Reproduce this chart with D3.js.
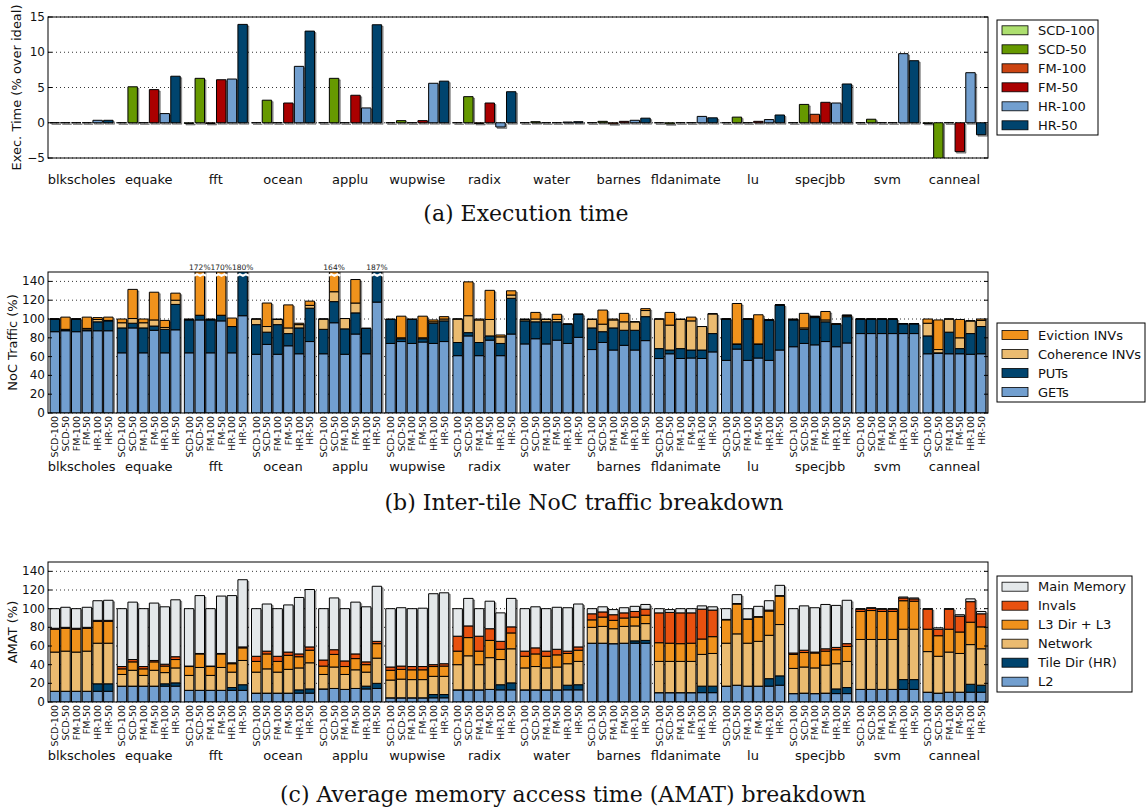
<!DOCTYPE html>
<html>
<head>
<meta charset="utf-8">
<title>Exec time, NoC traffic, AMAT</title>
<style>
html, body { margin:0; padding:0; background:#fff; }
svg { display:block; font-family: 'DejaVu Sans', sans-serif; }
.caption { font-family: 'DejaVu Serif', serif; }
</style>
</head>
<body>
<svg id="stage" width="1147" height="812"></svg>
<script src="https://d3js.org/d3.v7.min.js"></script>
<script>

var benchmarks = ["blkscholes","equake","fft","ocean","applu","wupwise","radix","water","barnes","fldanimate","lu","specjbb","svm","canneal"];
var configs = ["SCD-100","SCD-50","FM-100","FM-50","HR-100","HR-50"];

// (a) execution time, % over ideal, one value per benchmark
var execSCD100 = [0, 0, -0.1, 0, 0, 0, 0, 0, 0, 0, 0, 0, 0, -0.1];
var execSCD50  = [0, 5.1, 6.3, 3.2, 6.3, 0.3, 3.7, 0.15, 0.2, -0.15, 0.8, 2.6, 0.5, -5.6];
var execFM100  = [0, 0, -0.1, 0, 0, 0, -0.1, 0, -0.15, 0, 0, 1.2, 0, 0];
var execFM50   = [0, 4.7, 6.1, 2.8, 3.9, 0.3, 2.8, 0, 0.2, 0, 0.2, 2.9, 0, -4.1];
var execHR100  = [0.35, 1.3, 6.2, 8.0, 2.1, 5.6, -0.6, 0.1, 0.35, 0.9, 0.45, 2.8, 9.8, 7.1];
var execHR50   = [0.35, 6.6, 13.95, 13.0, 13.9, 5.9, 4.4, 0.15, 0.65, 0.7, 1.1, 5.5, 8.8, -1.7];
var execColors = ["#addf6f", "#669900", "#cc4411", "#aa0000", "#729fcf", "#00446e"];

// (b) NoC traffic (%), one row per benchmark, one column per config
var nocGETs = [
  [86.5, 87.5, 86.5, 87.5, 87.5, 87.5],
  [64, 90.5, 64, 88, 64, 88.5],
  [64, 99, 64, 98, 64, 103.5],
  [62.5, 73, 62.5, 71.5, 63, 76],
  [63, 96, 62.5, 84, 63, 118],
  [74, 76, 74, 75.5, 74, 76],
  [61, 82, 61, 77.5, 61, 84],
  [73.5, 79, 73.5, 77.5, 74, 80.5],
  [67.5, 75, 67, 72, 67, 77],
  [58, 63, 58, 58.5, 58, 65],
  [56, 68, 56, 58.5, 56, 67],
  [70.5, 74, 72.5, 76, 70.5, 74.5],
  [84.5, 84.5, 84.5, 84.5, 84.5, 84.5],
  [63, 63.5, 63, 63, 62.5, 63]
];
var nocPUTs = [
  [13.5, 1, 13.5, 1, 9.5, 10.5],
  [26.5, 5, 26.5, 4.5, 25, 27],
  [35, 5, 35, 6, 28, 76.5],
  [31.5, 13, 31.5, 13, 27.5, 35.5],
  [26, 22.5, 27, 22.5, 27, 69],
  [25.5, 3, 25.5, 3.5, 21.5, 22],
  [14, 3.5, 14, 4.5, 13, 38],
  [24.5, 18, 23.5, 19.5, 20.5, 24.5],
  [23, 11.5, 23.5, 16, 21, 25.5],
  [10.5, 4, 10.5, 8.5, 9, 19.5],
  [44, 5, 44, 14.5, 43, 48],
  [28.5, 15, 29, 21, 24, 28],
  [15.5, 15.5, 15.5, 15.5, 10.5, 10.5],
  [19, 0.5, 23, 5.5, 22, 29]
];
var nocCohINVs = [
  [0, 0.5, 0, 1.5, 2.5, 0.5],
  [5.5, 5, 5.5, 6.5, 2, 4.5],
  [0.5, 0, 0.5, 0, 0, 0],
  [6, 6, 5.5, 6, 3.5, 3],
  [11, 10.5, 11, 10.5, 0, 0],
  [0, 1, 0, 1, 1.5, 2],
  [25, 18, 24, 17.5, 7, 3.5],
  [1.5, 3, 2.5, 2.5, 0, 0],
  [9, 8, 8.5, 9, 9, 6.5],
  [31.5, 26.5, 31, 31, 25, 21],
  [0, 0.5, 0, 0.5, 0, 0],
  [0.5, 1.5, 1, 2, 0, 1.5],
  [0, 0, 0, 0, 0, 0],
  [13.5, 3.5, 14, 11.5, 13.5, 6.5]
];
var nocEvictINVs = [
  [0, 13, 0, 12, 2, 3.5],
  [4, 31, 4, 29.5, 7.5, 7.5],
  [0.5, 68, 0.5, 66, 9, 0],
  [0, 25, 0.5, 24.5, 1.5, 4.5],
  [0, 35, 0, 25, 0, 0],
  [0.5, 23, 0.5, 23, 2, 2.5],
  [0, 36, 1, 31, 2, 4.5],
  [0.5, 7, 0.5, 5.5, 0, 0],
  [0.5, 15, 1, 9, 0, 2],
  [0, 13.5, 0.5, 4, 0, 0],
  [0, 43, 0, 31, 0, 0],
  [0.5, 15.5, 0.5, 9, 0.5, 0],
  [0, 0, 0, 0, 0, 0],
  [4.5, 31.5, 0, 19.5, 0, 1.5]
];
var nocNames = ["GETs", "PUTs", "Coherence INVs", "Eviction INVs"];
var nocColors = ["#729fcf", "#00446e", "#ebbb70", "#f0921c"];

// (c) AMAT breakdown (%)
var amatL2 = [
  [11.5, 11.5, 11.5, 11.5, 11.5, 11.5],
  [17, 17, 17, 17, 17, 17],
  [12.5, 12.5, 12.5, 12.5, 12.5, 12.5],
  [9.5, 9.5, 9.5, 9.5, 9.5, 9.5],
  [14, 14.5, 13.5, 14.5, 14, 14.5],
  [4.5, 4.5, 4.5, 4.5, 4.5, 4.5],
  [13, 13, 13, 13.5, 13, 13],
  [13, 13, 13, 13, 13, 13],
  [63, 63, 62.5, 63, 63, 63],
  [10, 10, 10, 10, 10, 10],
  [17, 18, 17, 17, 17, 18],
  [9, 9.5, 9, 9.5, 9, 9],
  [13.5, 13.5, 13.5, 13.5, 13.5, 13.5],
  [10.5, 9.5, 10.5, 10.5, 10.5, 10.5]
];
var amatTileDir = [
  [0, 0, 0, 0, 8, 8],
  [0, 0, 0, 0, 2.5, 3.5],
  [0, 0, 0, 0, 3, 6],
  [0, 0, 0, 0, 3.5, 4.5],
  [0, 0, 0, 0, 3, 5.5],
  [0, 0, 0, 0, 3.5, 3.5],
  [0, 0, 0, 0, 5.5, 7.5],
  [0, 0, 0, 0, 5, 5.5],
  [0, 0, 0, 0, 2.5, 3],
  [0, 0, 0, 0, 7, 7],
  [0, 0, 0, 0, 8, 10],
  [0, 0, 0, 0, 5, 6.5],
  [0, 0, 0, 0, 10.5, 10.5],
  [0, 0, 0, 0, 8.5, 7.5]
];
var amatNetwork = [
  [42, 43, 42, 43, 43.5, 43.5],
  [12.5, 17, 11.5, 17, 12, 16],
  [16, 24.5, 16, 24.5, 16.5, 26],
  [22.5, 26, 22.5, 25.5, 23.5, 28],
  [15.5, 23, 16, 20, 15, 27],
  [19, 20, 19.5, 19.5, 19.5, 19.5],
  [27, 36.5, 27, 34, 27, 36.5],
  [23.5, 25, 23.5, 24.5, 23, 25],
  [17, 18, 16, 18, 16, 18],
  [33.5, 33.5, 33.5, 33.5, 34, 35],
  [46, 55, 46, 48, 46.5, 55],
  [27, 28, 27.5, 30, 27, 28],
  [53.5, 53.5, 53.5, 53.5, 54, 54],
  [43.5, 39.5, 43, 41.5, 42.5, 39]
];
var amatL3 = [
  [24.5, 24.5, 24.5, 24.5, 23.5, 23.5],
  [6, 9, 7, 9, 7, 9],
  [9.5, 14.5, 9.5, 14.5, 9, 13.5],
  [11.5, 16, 11.5, 15, 12, 13.5],
  [9, 13.5, 8.5, 12, 8, 15.5],
  [10.5, 10.5, 10.5, 10.5, 10.5, 11],
  [14.5, 19.5, 14.5, 18.5, 11, 17],
  [12.5, 13.5, 12.5, 13, 11, 12],
  [8, 10, 9, 9, 9.5, 9],
  [20, 19.5, 19, 19.5, 16.5, 18],
  [25, 32, 25.5, 26, 26, 30.5],
  [15, 15.5, 16, 15, 15, 16],
  [30, 31, 30, 30, 30.5, 30],
  [24, 22, 24.5, 23, 24, 23.5]
];
var amatInvals = [
  [1, 1, 1, 1, 1, 1],
  [2.5, 2.5, 2.5, 1.5, 2, 3],
  [0.5, 0.5, 0.5, 0.5, 1, 1],
  [5.5, 3, 5.5, 3.5, 3, 3.5],
  [6.5, 5, 6, 5, 3, 2.5],
  [3.5, 3.5, 3.5, 3.5, 2, 2.5],
  [16, 12.5, 16, 12.5, 8.5, 6.5],
  [5.5, 6.5, 5.5, 6, 2.5, 3.5],
  [6.5, 5.5, 6, 5.5, 6, 6.5],
  [32, 33, 33, 32.5, 32, 28.5],
  [0.5, 0.5, 0.5, 0.5, 1, 0.5],
  [1.5, 2.5, 1, 2.5, 2.5, 3],
  [2.5, 2.5, 2.5, 2.5, 3, 2.5],
  [21.5, 7, 21.5, 17, 22, 14]
];
var amatMainMem = [
  [21, 21.5, 21, 21.5, 21, 21.5],
  [62, 61.5, 62, 61.5, 61.5, 61],
  [61.5, 62, 61.5, 61.5, 72, 72],
  [51, 50.5, 51, 50.5, 60.5, 61.5],
  [55, 55.5, 56, 55.5, 59, 59],
  [62.5, 62.5, 62, 62.5, 76, 76],
  [29.5, 29.5, 29.5, 29.5, 30.5, 30.5],
  [45.5, 44, 45.5, 45, 46.5, 46],
  [5.5, 5.5, 5.5, 5.5, 5.5, 5],
  [4.5, 3, 4.5, 4.5, 3.5, 3.5],
  [11.5, 9.5, 11, 11, 10, 11],
  [47.5, 47.5, 47.5, 47.5, 45, 46.5],
  [0.5, 0.5, 0.5, 0.5, 1, 1],
  [0.5, 1.5, 0.5, 1.5, 3, 2.5]
];
var amatNames = ["L2", "Tile Dir (HR)", "Network", "L3 Dir + L3", "Invals", "Main Memory"];
var amatColors = ["#729fcf", "#00446e", "#ebbb70", "#f0921c", "#e8510f", "#e4e8ea"];


var svg = d3.select("#stage");
var left = 48, right = 988;

var xGroup = d3.scaleBand().domain(benchmarks).range([left, right])
    .paddingInner(0.062).paddingOuter(0.031);
var xBar = d3.scaleBand().domain(configs).range([0, xGroup.bandwidth()]).paddingInner(0.12);
var bw = xBar.bandwidth();

function barX(b, c) { return xGroup(b) + xBar(c); }

// a path (not a rect) so zero-height bars still show their edge
function barPath(x, ya, yb, w) {
  return "M" + x + "," + ya + "H" + (x + w) + "V" + yb + "H" + x + "Z";
}

var clipN = 0;
function axesFrame(g, y, ticks, label, labelX, fmt) {
  var top = y.range()[1], bottom = y.range()[0];
  var id = "clip" + (clipN++);
  svg.append("clipPath").attr("id", id).append("rect")
    .attr("x", left).attr("y", top).attr("width", right - left).attr("height", bottom - top);

  g.append("g").selectAll("line").data(ticks).join("line")
    .attr("x1", left).attr("x2", right)
    .attr("y1", function(d) { return y(d); }).attr("y2", function(d) { return y(d); })
    .attr("stroke", "#000").attr("stroke-width", 0.8).attr("stroke-dasharray", "1,3");

  var plot = g.append("g").attr("clip-path", "url(#" + id + ")");
  var over = g.append("g");

  over.append("rect").attr("x", left).attr("y", top)
    .attr("width", right - left).attr("height", bottom - top)
    .attr("fill", "none").attr("stroke", "#000").attr("stroke-width", 1);

  var t = over.append("g").selectAll("g").data(ticks).join("g");
  t.append("line").attr("x1", left).attr("x2", left + 4)
    .attr("y1", function(d) { return y(d); }).attr("y2", function(d) { return y(d); }).attr("stroke", "#000");
  t.append("line").attr("x1", right - 4).attr("x2", right)
    .attr("y1", function(d) { return y(d); }).attr("y2", function(d) { return y(d); }).attr("stroke", "#000");
  t.append("text").attr("x", left - 3).attr("y", function(d) { return y(d); })
    .attr("text-anchor", "end").attr("dominant-baseline", "central")
    .attr("font-size", 12).attr("fill", "#111").text(fmt);

  over.append("text")
    .attr("transform", "translate(" + labelX + "," + ((top + bottom) / 2) + ") rotate(-90)")
    .attr("text-anchor", "middle").attr("dominant-baseline", "central")
    .attr("font-size", 13).attr("fill", "#111").text(label);

  return { plot: plot, over: over };
}

function groupLabels(g, yPos) {
  g.append("g").selectAll("text").data(benchmarks).join("text")
    .attr("x", function(d) { return xGroup(d) + xGroup.bandwidth() / 2; })
    .attr("y", yPos).attr("text-anchor", "middle")
    .attr("font-size", 13).attr("fill", "#111").text(function(d) { return d; });
}

function configLabels(g, yPos) {
  var cells = d3.cross(benchmarks, configs);
  g.append("g").selectAll("text").data(cells).join("text")
    .attr("transform", function(d) {
      return "translate(" + (barX(d[0], d[1]) + bw / 2) + "," + yPos + ") rotate(-90)";
    })
    .attr("text-anchor", "end").attr("dominant-baseline", "central")
    .attr("font-size", 9.5).attr("fill", "#111").text(function(d) { return d[1]; });
}

function legend(x, y, w, h, top, names, colors) {
  var g = svg.append("g");
  g.append("rect").attr("x", x).attr("y", y).attr("width", w).attr("height", h)
    .attr("fill", "#fff").attr("stroke", "#000").attr("stroke-width", 1);
  var row = g.selectAll("g.row").data(names).join("g")
    .attr("transform", function(d, i) { return "translate(" + (x + 5) + "," + (top + i * 19) + ")"; });
  row.append("rect").attr("x", 0).attr("y", -4.5).attr("width", 26).attr("height", 9)
    .attr("fill", function(d, i) { return colors[i]; }).attr("stroke", "#000").attr("stroke-width", 0.8);
  row.append("text").attr("x", 36).attr("y", 0).attr("dominant-baseline", "central")
    .attr("font-size", 13).attr("fill", "#111").text(function(d) { return d; });
}

function caption(text, cx, y) {
  svg.append("text").attr("class", "caption").attr("x", cx).attr("y", y)
    .attr("text-anchor", "middle").attr("font-size", 22).attr("fill", "#111").text(text);
}

// ---------- (a) execution time ----------
(function() {
  var y = d3.scaleLinear().domain([-5, 15]).range([158, 17]);
  var g = svg.append("g");
  var f = axesFrame(g, y, [-5, 0, 5, 10, 15], "Exec. Time (% over ideal)", 16,
    function(d) { return d < 0 ? "\u2212" + (-d) : d; });
  var series = [execSCD100, execSCD50, execFM100, execFM50, execHR100, execHR50];
  var cells = [];
  benchmarks.forEach(function(b, i) {
    configs.forEach(function(c, j) { cells.push({ b: b, c: c, j: j, v: series[j][i] }); });
  });
  f.plot.append("g").selectAll("path").data(cells).join("path")
    .attr("d", function(d) { return barPath(barX(d.b, d.c) + 1.5, y(0) + 1.5, y(d.v) + 1.5, bw); })
    .attr("fill", "#000").attr("fill-opacity", 0.35)
    .attr("stroke", "#000").attr("stroke-opacity", 0.35);
  f.plot.append("g").selectAll("path").data(cells).join("path")
    .attr("d", function(d) { return barPath(barX(d.b, d.c), y(0), y(d.v), bw); })
    .attr("fill", function(d) { return execColors[d.j]; })
    .attr("stroke", "#000").attr("stroke-width", 1);
  groupLabels(g, 184);
  legend(997, 20, 101, 115, 30.3, configs, execColors);
  caption("(a) Execution time", 526, 221);
})();

// ---------- stacked panels (b) and (c) ----------
function stackedPanel(top, bottom, tables, names, colors, label, labelX, groupY) {
  var y = d3.scaleLinear().domain([0, 150]).range([bottom, top]);
  var g = svg.append("g");
  var f = axesFrame(g, y, [0, 20, 40, 60, 80, 100, 120, 140], label, labelX, function(d) { return d; });

  var rows = [];
  benchmarks.forEach(function(b, i) {
    configs.forEach(function(c, j) {
      var r = { b: b, c: c };
      names.forEach(function(n, k) { r[n] = tables[k][i][j]; });
      r.total = d3.sum(names, function(n) { return r[n]; });
      rows.push(r);
    });
  });
  var stacked = d3.stack().keys(names)(rows);

  f.plot.append("g").selectAll("path").data(rows).join("path")
    .attr("d", function(d) { return barPath(barX(d.b, d.c) + 1.5, y(0) + 1.5, y(Math.min(d.total, 152)) + 1.5, bw); })
    .attr("fill", "#000").attr("fill-opacity", 0.35)
    .attr("stroke", "#000").attr("stroke-opacity", 0.35);

  f.plot.append("g").selectAll("g").data(stacked).join("g")
    .attr("fill", function(d, k) { return colors[k]; })
    .selectAll("path").data(function(d) { return d; }).join("path")
    .attr("d", function(d) { return barPath(barX(d.data.b, d.data.c), y(d[0]), y(Math.min(d[1], 160)), bw); })
    .attr("stroke", "#000").attr("stroke-width", 1);

  // bars that run off the top get a break mark and their real value
  var tall = rows.filter(function(d) { return d.total > 150; });
  f.plot.append("g").selectAll("path").data(tall).join("path")
    .attr("d", function(d) {
      var x0 = barX(d.b, d.c) - 1, yy = y(146);
      return "M" + x0 + "," + yy + "l3,-1.5l3,1.5l3,-1.5l3,1.5";
    })
    .attr("fill", "none").attr("stroke", "#fff").attr("stroke-width", 2.2);
  g.append("g").selectAll("text").data(tall).join("text")
    .attr("x", function(d) { return barX(d.b, d.c) + bw / 2; })
    .attr("y", top - 2).attr("text-anchor", "middle")
    .attr("font-size", 7.5).attr("fill", "#222")
    .text(function(d) { return Math.round(d.total) + "%"; });

  configLabels(g, bottom + 3);
  groupLabels(g, groupY);
}

stackedPanel(272, 413, [nocGETs, nocPUTs, nocCohINVs, nocEvictINVs], nocNames, nocColors,
  "NoC Traffic (%)", 12, 471);
legend(997, 323, 148, 79, 335, nocNames.slice().reverse(), nocColors.slice().reverse());
caption("(b) Inter-tile NoC traffic breakdown", 584, 510);

stackedPanel(562, 702, [amatL2, amatTileDir, amatNetwork, amatL3, amatInvals, amatMainMem], amatNames, amatColors,
  "AMAT (%)", 12, 760);
legend(997, 576, 135, 116, 586.7, amatNames.slice().reverse(), amatColors.slice().reverse());
caption("(c) Average memory access time (AMAT) breakdown", 573, 802);

</script>
</body>
</html>
